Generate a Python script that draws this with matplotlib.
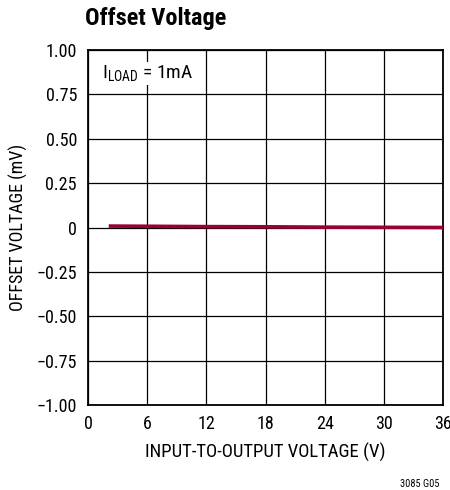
import matplotlib
matplotlib.use("Agg")
import matplotlib.pyplot as plt

# === Données ===
vin_out = [2.1, 6, 12, 18, 24, 30, 36]                  # V
offset_mv = [0.008, 0.007, 0.005, 0.004, 0.002, 0.001, 0.0]  # mV

x_ticks = [0, 6, 12, 18, 24, 30, 36]
y_ticks = [-1.0, -0.75, -0.5, -0.25, 0, 0.25, 0.5, 0.75, 1.0]
y_labels = ["\u22121.00", "\u22120.75", "\u22120.50", "\u22120.25", "0",
            "0.25", "0.50", "0.75", "1.00"]

fonts = ['Roboto Condensed', 'Archivo Narrow', 'DejaVu Sans']
plt.rcParams['font.family'] = fonts
plt.rcParams['mathtext.fontset'] = 'custom'
plt.rcParams['mathtext.rm'] = 'Roboto Condensed'

fig = plt.figure(figsize=(4.5, 4.9), dpi=100)
ax = fig.add_axes([88 / 450, 1 - 405 / 490, 355 / 450, 355 / 490])

ax.plot(vin_out, offset_mv, color='#990033', linewidth=2.6, solid_capstyle='butt', zorder=3)

ax.set_xlim(0, 36)
ax.set_ylim(-1, 1)
ax.set_xticks(x_ticks)
ax.set_yticks(y_ticks)
ax.set_yticklabels(y_labels)
ax.tick_params(length=0, labelsize=13)
ax.tick_params(axis='x', pad=7)
ax.tick_params(axis='y', pad=8)
ax.grid(True, color='black', linewidth=0.9)
for s in ax.spines.values():
    s.set_linewidth(1.3)

ax.set_xlabel("INPUT-TO-OUTPUT VOLTAGE (V)", fontsize=13.5, labelpad=7)
ax.set_ylabel("OFFSET VOLTAGE (mV)", fontsize=13, labelpad=6)

ax.text(1.42, 0.865, r"I$_{\mathregular{LOAD}}$ = 1mA", fontsize=14, va='center', ha='left',
        bbox=dict(facecolor='white', edgecolor='none', pad=1), zorder=4)

fig.text(85 / 450, 1 - 25 / 490, "Offset Voltage", fontsize=17.5, fontweight='bold',
         ha='left', va='baseline')
fig.text(439 / 450, 1 - 487 / 490, "3085 G05", fontsize=7.5, ha='right', va='baseline')

fig.savefig("out.png", dpi=100)
